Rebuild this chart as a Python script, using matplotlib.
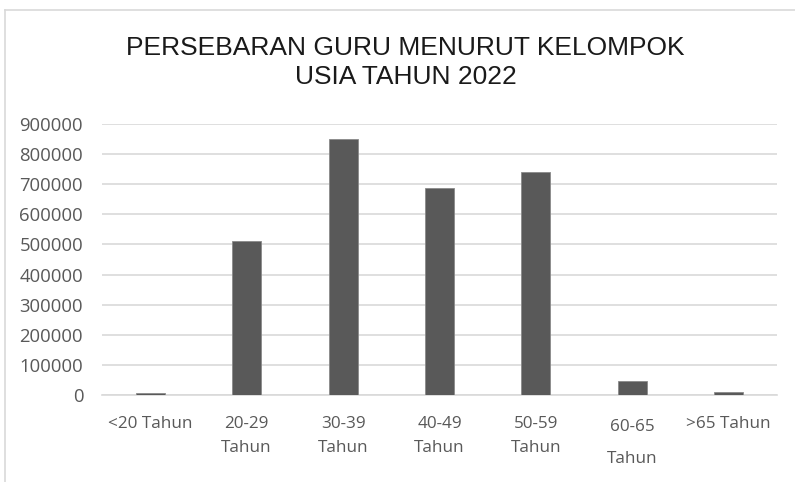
import matplotlib
matplotlib.use("Agg")
import matplotlib.pyplot as plt
from matplotlib.lines import Line2D

categories = ["<20 Tahun", "20-29\nTahun", "30-39\nTahun", "40-49\nTahun",
              "50-59\nTahun", "60-65\nTahun", ">65 Tahun"]
values = [8000, 511000, 850000, 688000, 740000, 46000, 9000]
yticks = [0, 100000, 200000, 300000, 400000, 500000, 600000, 700000, 800000, 900000]
title = "PERSEBARAN GURU MENURUT KELOMPOK\nUSIA TAHUN 2022"

fig = plt.figure(figsize=(7.95, 4.82), dpi=100)
ax = fig.add_axes([102/795, 1-395/482, (777-102)/795, (395-124)/482])

x = list(range(len(categories)))
ax.bar(x, values, width=0.3, color="#595959", edgecolor="#8a8a8a", linewidth=0.6, zorder=3)
ax.set_xlim(-0.5, len(categories)-0.5)
ax.set_ylim(0, 900000)
ax.set_yticks(yticks)
ax.set_yticklabels([str(v) for v in yticks])
ax.grid(axis="y", color="#d9d9d9", linewidth=1.2, zorder=0)
for s in ["top", "right", "left"]:
    ax.spines[s].set_visible(False)
ax.spines["bottom"].set_color("#d9d9d9")
ax.spines["bottom"].set_linewidth(1.2)
ax.tick_params(axis="both", length=0, labelcolor="#595959")
ax.tick_params(axis="y", pad=13.5, labelsize=13.3)
ax.tick_params(axis="x", pad=15, labelsize=12.3)
ax.set_xticks(x)
ax.set_xticklabels(categories, family=["Open Sans", "DejaVu Sans"], linespacing=1.65)
for lab in ax.get_yticklabels():
    lab.set_family(["Open Sans", "DejaVu Sans"])
lbls = ax.get_xticklabels()
lbls[5].set_linespacing(2.35)
lbls[5].set_y(-0.012)

fig.text(0.510, 1-62.5/482, title, ha="center", va="center", fontsize=19,
         family=["Liberation Sans", "DejaVu Sans"],
         color="#1a1a1a", linespacing=1.28)

# chart frame (top and left borders)
fig.add_artist(Line2D([5/795, 1], [1-10/482, 1-10/482], transform=fig.transFigure, color="#d9d9d9", lw=1.2))
fig.add_artist(Line2D([5/795, 5/795], [0, 1-10/482], transform=fig.transFigure, color="#d9d9d9", lw=1.2))

fig.savefig("out.png", dpi=100)
